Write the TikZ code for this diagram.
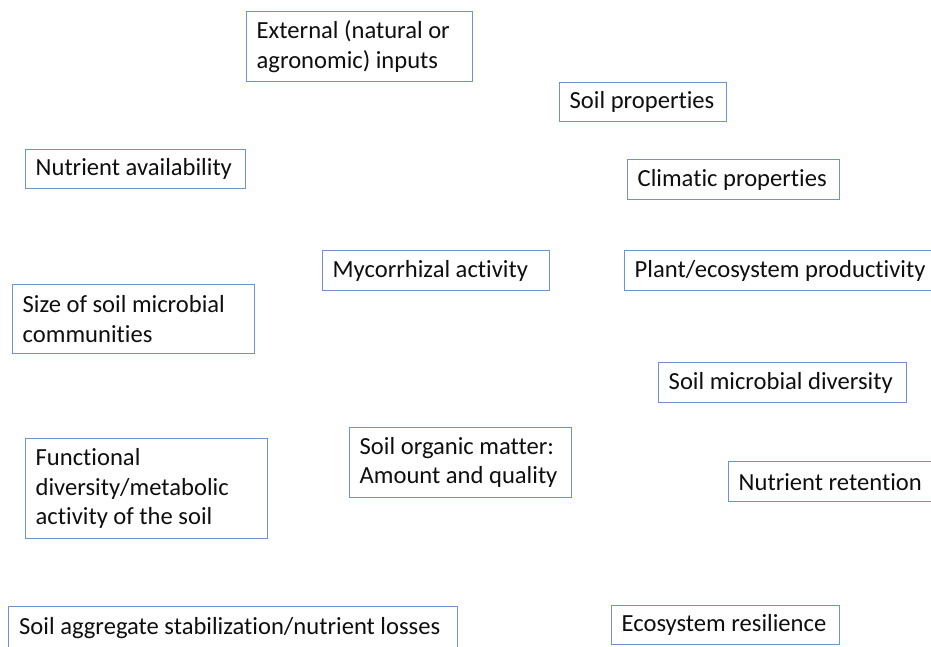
\documentclass[tikz,border=0pt]{standalone}
\usepackage{fontspec}
\setmainfont[Ligatures={NoCommon}]{Carlito}
\definecolor{boxblue}{RGB}{108,148,208}
\definecolor{txt}{RGB}{15,15,15}
\tikzset{
  box/.style={draw=boxblue, line width=1.3pt, fill=white, anchor=north west,
    inner sep=0pt},
  boxtext/.style={anchor=west, inner sep=0pt, align=left, text=txt,
    font=\fontsize{24.6}{29.5}\selectfont},
}
\newcommand{\mkbox}[6]{% name, x, y, w, h, text
  \node[box, minimum width=#4pt, minimum height=#5pt] (#1) at (#2,#3) {};
  \node[boxtext] (#1-t) at ([xshift=10.5pt]#1.west) {#6};}
\begin{document}
\begin{tikzpicture}[x=1pt,y=-1pt]
\useasboundingbox (0,0) rectangle (931,646);
\clip (0,0) rectangle (931,646);
\mkbox{ext}{246}{11}{226}{70}{External (natural or\\agronomic) inputs}
\mkbox{soilprop}{559}{82}{167}{39}{Soil properties}
\mkbox{nutav}{25}{149}{220}{39}{Nutrient availability}
\mkbox{clim}{627}{159}{212}{40}{Climatic properties}
\mkbox{myco}{322}{250}{227}{40}{Mycorrhizal activity}
\mkbox{plant}{624}{250}{330}{40}{Plant/ecosystem productivity}
\mkbox{size}{12}{284}{242}{69}{Size of soil microbial\\communities}
\mkbox{div}{658}{362}{248}{40}{Soil microbial diversity}
\mkbox{som}{349}{427}{222}{70}{Soil organic matter:\\Amount and quality}
\mkbox{func}{25}{438}{242}{100}{Functional\\diversity/metabolic\\activity of the soil}
\mkbox{ret}{728}{461}{230}{40}{Nutrient retention}
\node[box, minimum width=449pt, minimum height=60pt] (agg) at (8,606) {};
\node[boxtext] (agg-t) at (19,628) {Soil aggregate stabilization/nutrient losses};
\mkbox{res}{611}{605}{228}{39}{Ecosystem resilience}
\end{tikzpicture}
\end{document}
